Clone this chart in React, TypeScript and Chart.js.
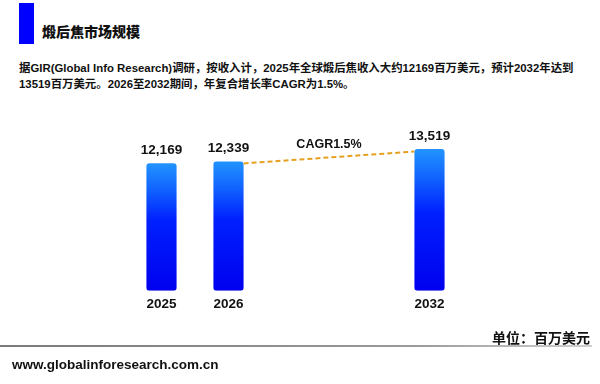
import React, { useEffect, useRef } from "react";
import { Chart, registerables } from "chart.js";

Chart.register(...registerables);

const categories = ["2025", "2026", "", "", "2032"];
const values: (number | null)[] = [12169, 12339, null, null, 13519];
const valueLabels = ["12,169", "12,339", "", "", "13,519"];
const cagrText = "CAGR1.5%";
const titleText = "煅后焦市场规模";
const paraLine1 = "据GIR(Global Info Research)调研，按收入计，2025年全球煅后焦收入大约12169百万美元，预计2032年达到";
const paraLine2 = "13519百万美元。2026至2032期间，年复合增长率CAGR为1.5%。";
const unitText = "单位：百万美元";
const footerText = "www.globalinforesearch.com.cn";

const FONT = '"Liberation Sans", "Noto Sans CJK SC", Arial, sans-serif';

const overlayPlugin = {
  id: "overlay",
  afterDatasetsDraw(chart: any) {
    const ctx = chart.ctx;
    const meta = chart.getDatasetMeta(0);
    ctx.save();
    ctx.font = `bold 13.5px ${FONT}`;
    ctx.fillStyle = "#111";
    ctx.textAlign = "center";
    ctx.textBaseline = "middle";
    meta.data.forEach((el: any, i: number) => {
      if (values[i] == null) return;
      ctx.fillText(valueLabels[i], el.x, el.y - 13);
    });
    const a = meta.data[1];
    const b = meta.data[4];
    const x1 = a.x + a.width / 2;
    const y1 = a.y + 2;
    const x2 = b.x - b.width / 2;
    const y2 = b.y + 2.5;
    ctx.strokeStyle = "#E6A020";
    ctx.lineWidth = 2;
    ctx.setLineDash([5, 3]);
    ctx.beginPath();
    ctx.moveTo(x1, y1);
    ctx.lineTo(x2, y2);
    ctx.stroke();
    ctx.setLineDash([]);
    ctx.font = `bold 12.5px ${FONT}`;
    ctx.fillStyle = "#111";
    ctx.fillText(cagrText, (x1 + x2) / 2, (y1 + y2) / 2 - 13);
    ctx.restore();
  },
};

function ChartView() {
  const ref = useRef<HTMLCanvasElement>(null);
  useEffect(() => {
    if (!ref.current) return;
    const chart = new Chart(ref.current, {
      type: "bar",
      data: {
        labels: categories,
        datasets: [
          {
            data: values,
            backgroundColor: (c: any) => {
              const chart = c.chart;
              const ys = chart.scales && chart.scales.y;
              if (!ys || c.raw == null) return "#0000ff";
              const top = ys.getPixelForValue(c.raw);
              const bot = ys.getPixelForValue(0);
              if (!isFinite(top) || !isFinite(bot)) return "#0000ff";
              const g = chart.ctx.createLinearGradient(0, top, 0, bot);
              g.addColorStop(0, "#2294ff");
              g.addColorStop(0.2, "#1164ff");
              g.addColorStop(0.45, "#0020ff");
              g.addColorStop(1, "#0000ee");
              return g;
            },
            borderWidth: 0,
            borderRadius: 3,
            borderSkipped: false,
            barPercentage: 0.9,
            categoryPercentage: 0.5,
          },
        ],
      },
      options: {
        animation: false,
        responsive: false,
        maintainAspectRatio: false,
        events: [],
        layout: { padding: { left: 128, right: 137, top: 144, bottom: 67 } },
        plugins: { legend: { display: false }, tooltip: { enabled: false } },
        scales: {
          x: {
            grid: { display: false, drawTicks: false },
            border: { display: false },
            ticks: {
              padding: 5,
              color: "#111",
              font: { family: FONT, size: 13.5, weight: "bold" },
              autoSkip: false,
              maxRotation: 0,
            },
          },
          y: { display: false, min: 0, max: 14000 },
        },
      },
      plugins: [overlayPlugin],
    });
    return () => chart.destroy();
  }, []);
  return <canvas ref={ref} width={600} height={384} style={{ position: "absolute", left: 0, top: 0, width: 600, height: 384 }} />;
}

export default function App() {
  return (
    <div style={{ position: "fixed", left: 0, top: 0, width: 600, height: 384, background: "#fff", overflow: "hidden", fontFamily: FONT }}>
      <div style={{ position: "absolute", left: 19, top: 3, width: 15, height: 41, background: "#0000ff" }} />
      <div style={{ position: "absolute", left: 42, top: 22, fontSize: 14, fontWeight: 900, lineHeight: "18px", color: "#111", whiteSpace: "nowrap", fontFamily: '"Noto Sans CJK SC", sans-serif' }}>{titleText}</div>
      <div style={{ position: "absolute", left: 19, top: 60, fontSize: 11.4, fontWeight: "bold", lineHeight: "16px", color: "#111", whiteSpace: "nowrap" }}>
        <div>{paraLine1}</div>
        <div>{paraLine2}</div>
      </div>
      <ChartView />
      <div style={{ position: "absolute", right: 10, top: 329, fontSize: 14, fontWeight: "bold", lineHeight: "16px", color: "#111", whiteSpace: "nowrap", fontFamily: '"Noto Sans CJK SC", sans-serif' }}>{unitText}</div>
      <div style={{ position: "absolute", left: 0, top: 345, width: 592, height: 2, background: "linear-gradient(to right, #7a7a7a, #9a9a9a 70%, #d0d0d0)" }} />
      <div style={{ position: "absolute", left: 12, top: 357, fontSize: 13.5, fontWeight: "bold", lineHeight: "16px", color: "#111", whiteSpace: "nowrap" }}>{footerText}</div>
    </div>
  );
}
